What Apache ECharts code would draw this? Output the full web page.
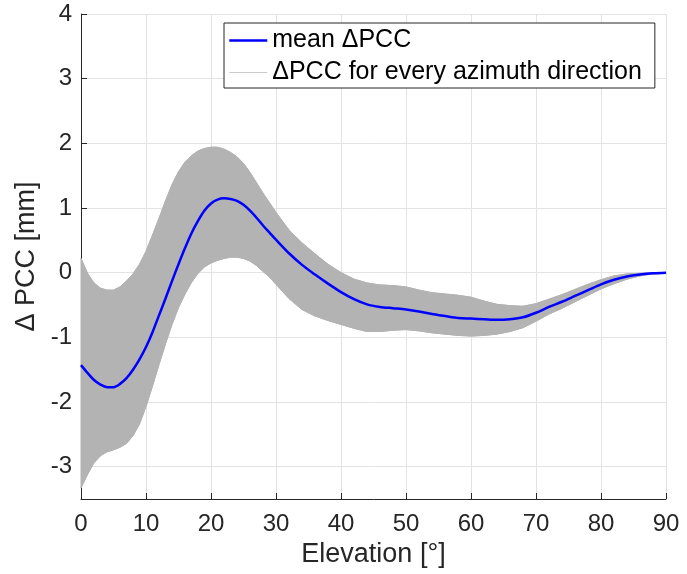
<!DOCTYPE html>
<html>
<head>
<meta charset="utf-8">
<script src="https://cdn.jsdelivr.net/npm/echarts@6/dist/echarts.min.js"></script>
<style>
html,body{margin:0;padding:0;background:#fff;}
#chart{width:687px;height:574px;}
</style>
</head>
<body>
<div id="chart"></div>
<script>
// Elevation samples [deg]
var elevation = [0,1,2,3,4,5,6,7,8,9,10,11,12,13,14,15,16,17,18,19,20,21,22,23,24,25,26,27,28,29,30,32,34,36,38,40,42,44,46,48,50,52,54,56,58,60,62,64,66,68,70,72,74,76,78,80,82,84,86,88,90];
// mean delta PCC [mm]
var meanPCC = [-1.43,-1.55,-1.66,-1.73,-1.77,-1.77,-1.72,-1.63,-1.50,-1.34,-1.15,-0.92,-0.66,-0.40,-0.13,0.13,0.38,0.61,0.80,0.96,1.07,1.13,1.15,1.14,1.11,1.05,0.96,0.85,0.73,0.62,0.51,0.30,0.12,-0.03,-0.17,-0.30,-0.41,-0.49,-0.53,-0.55,-0.57,-0.60,-0.64,-0.67,-0.70,-0.71,-0.72,-0.73,-0.72,-0.69,-0.62,-0.53,-0.45,-0.36,-0.27,-0.18,-0.11,-0.06,-0.03,-0.01,0.0];
// upper envelope of all azimuth curves
var upperPCC = [0.22,-0.01,-0.16,-0.24,-0.27,-0.27,-0.22,-0.13,-0.02,0.13,0.33,0.58,0.84,1.11,1.36,1.56,1.71,1.81,1.88,1.92,1.94,1.94,1.91,1.86,1.79,1.69,1.55,1.39,1.23,1.08,0.93,0.66,0.46,0.29,0.13,0.0,-0.10,-0.16,-0.19,-0.20,-0.22,-0.27,-0.31,-0.33,-0.35,-0.38,-0.44,-0.49,-0.51,-0.52,-0.48,-0.41,-0.34,-0.26,-0.18,-0.11,-0.05,-0.02,-0.01,0.0,0.0];
// lower envelope of all azimuth curves
var lowerPCC = [-3.33,-3.12,-2.94,-2.83,-2.77,-2.74,-2.70,-2.64,-2.52,-2.34,-2.07,-1.75,-1.42,-1.10,-0.80,-0.54,-0.33,-0.15,-0.01,0.09,0.15,0.19,0.22,0.24,0.24,0.22,0.18,0.11,0.02,-0.07,-0.18,-0.40,-0.57,-0.67,-0.74,-0.80,-0.86,-0.91,-0.91,-0.89,-0.88,-0.90,-0.93,-0.95,-0.97,-0.98,-0.97,-0.95,-0.91,-0.85,-0.75,-0.64,-0.55,-0.45,-0.35,-0.25,-0.17,-0.10,-0.05,-0.02,-0.01];
var xTicks = [0,10,20,30,40,50,60,70,80,90];
var yTicks = [-3,-2,-1,0,1,2,3,4];

var nameMean = 'mean \u0394PCC';
var nameAll = '\u0394PCC for every azimuth direction';

function pairs(ys){ return elevation.map(function(x,i){ return [x, ys[i]]; }); }

var FONT = 'Liberation Sans, Arial, Helvetica, sans-serif';
var chart = echarts.init(document.getElementById('chart'), null, {renderer:'canvas'});
chart.setOption({
  animation: false,
  backgroundColor: '#ffffff',
  textStyle: {fontFamily: FONT},
  grid: {left: 81, right: 21, top: 14, bottom: 75, containLabel: false},
  legend: {
    orient: 'vertical', left: 224, top: 23,
    backgroundColor: '#ffffff', borderColor: '#262626', borderWidth: 1, borderRadius: 0,
    padding: [5, 13, 3, 4], itemGap: 7, itemWidth: 38, itemHeight: 2, itemTextGap: 5,
    selectedMode: false,
    textStyle: {fontSize: 25, color: '#000000', fontFamily: FONT},
    data: [
      {name: nameMean, itemStyle: {color: '#0000ff', borderWidth: 0}, lineStyle: {color: '#0000ff', width: 2.5}},
      {name: nameAll, itemStyle: {color: '#cccccc', borderWidth: 0}, lineStyle: {color: '#cccccc', width: 1.2}}
    ]
  },
  xAxis: {
    type: 'value', min: 0, max: 90, interval: 10,
    name: 'Elevation [\u00b0]', nameLocation: 'middle', nameGap: 40,
    nameTextStyle: {fontSize: 27, color: '#262626', fontFamily: FONT},
    axisLine: {show: true, onZero: false, lineStyle: {color: '#262626', width: 1}},
    axisTick: {show: true, inside: true, length: 6, lineStyle: {color: '#262626'}},
    axisLabel: {fontSize: 24, color: '#262626', margin: 13, fontFamily: FONT,
      formatter: function(v){ return xTicks.indexOf(v) >= 0 ? String(v) : ''; }},
    splitLine: {show: true, lineStyle: {color: '#e3e3e3', width: 1}}
  },
  yAxis: {
    type: 'value', min: -3.5, max: 4, splitNumber: 8,
    name: '\u0394 PCC [mm]', nameLocation: 'middle', nameGap: 33, nameRotate: 90,
    nameTextStyle: {fontSize: 27, color: '#262626', fontFamily: FONT},
    axisLine: {show: true, onZero: false, lineStyle: {color: '#262626', width: 1}},
    axisTick: {show: true, inside: true, length: 6, lineStyle: {color: '#262626'}},
    axisLabel: {fontSize: 24, color: '#262626', margin: 9, showMinLabel: false, fontFamily: FONT,
      formatter: function(v){ return yTicks.indexOf(v) >= 0 ? String(v) : ''; }},
    splitLine: {show: true, lineStyle: {color: '#e3e3e3', width: 1}}
  },
  series: [
    {
      name: 'band fill', type: 'custom', coordinateSystem: 'cartesian2d',
      data: [[0, 0]], silent: true, itemStyle: {color: '#b3b3b3'},
      renderItem: function(params, api){
        var pts = [];
        for (var i = 0; i < elevation.length; i++) pts.push(api.coord([elevation[i], upperPCC[i]]));
        for (var j = elevation.length - 1; j >= 0; j--) pts.push(api.coord([elevation[j], lowerPCC[j]]));
        return {
          type: 'polygon',
          shape: {points: pts},
          style: {fill: '#b3b3b3', stroke: '#b3b3b3', lineWidth: 1}
        };
      }
    },
    {
      name: nameAll, type: 'line', data: pairs(upperPCC),
      symbol: 'none', showSymbol: false, silent: true, z: 3,
      lineStyle: {color: '#b3b3b3', width: 1},
      itemStyle: {color: '#b3b3b3'}
    },
    {
      name: nameAll, type: 'line', data: pairs(lowerPCC),
      symbol: 'none', showSymbol: false, silent: true, z: 3,
      lineStyle: {color: '#b3b3b3', width: 1},
      itemStyle: {color: '#b3b3b3'}
    },
    {
      name: nameMean, type: 'line', data: pairs(meanPCC),
      symbol: 'none', smooth: 0.3, showSymbol: false, z: 5,
      lineStyle: {color: '#0000ff', width: 2.5},
      itemStyle: {color: '#0000ff'}
    }
  ]
});
</script>
</body>
</html>
